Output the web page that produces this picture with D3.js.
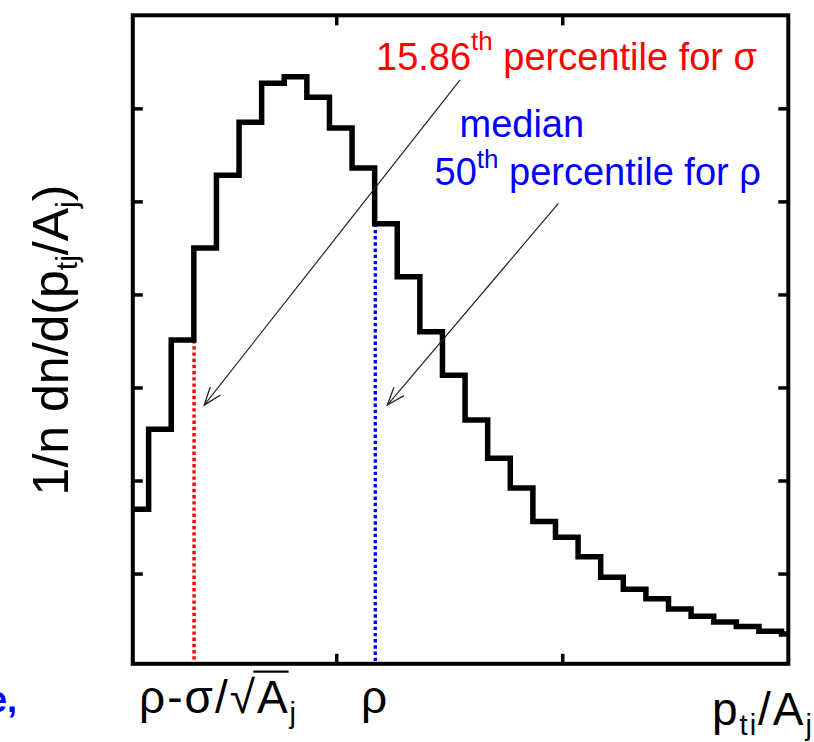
<!DOCTYPE html>
<html>
<head>
<meta charset="utf-8">
<script src="https://cdn.jsdelivr.net/npm/d3@7"></script>
<style>
  html, body { margin: 0; padding: 0; background: #fff; }
  svg { display: block; }
  text { font-family: "Liberation Sans", Arial, sans-serif; }
</style>
</head>
<body>
<svg id="chart" width="814" height="742"></svg>
<script>
// ---------------- data ----------------
const binEdges = [0.07, 0.17, 0.27, 0.37, 0.47, 0.57, 0.67, 0.77, 0.87, 0.97,
                  1.07, 1.17, 1.27, 1.37, 1.47, 1.57, 1.67, 1.77, 1.87, 1.97,
                  2.07, 2.17, 2.27, 2.37, 2.47, 2.57, 2.67, 2.77, 2.87, 2.97, 3.07];
const binValues = [1.69, 2.55, 3.51, 4.50, 5.28, 5.85, 6.27, 6.34, 6.12, 5.79,
                   5.36, 4.76, 4.19, 3.60, 3.13, 2.65, 2.24, 1.92, 1.56, 1.39,
                   1.18, 0.96, 0.83, 0.73, 0.62, 0.54, 0.48, 0.43, 0.38, 0.35];
const xTicks = [1, 2];
const yTicks = [1, 2, 3, 4, 5, 6];
// percentile markers: [x position, histogram height at that x]
const sigmaMark = [0.371, 3.51];
const medianMark = [1.173, 4.76];
// arrows: [tailX, tailY, tipX, tipY] in data units
const sigmaArrow = [1.548, 6.305, 0.416, 2.81];
const medianArrow = [1.983, 4.979, 1.226, 2.81];

// ---------------- layout ----------------
const plot = { left: 132.8, right: 788.3, top: 15.3, bottom: 663.8 };
const svg = d3.select("#chart");

const x = d3.scaleLinear().domain([0.1, 3.0]).range([plot.left, plot.right]);
const y = d3.scaleLinear().domain([0.03, 7.0]).range([plot.bottom, plot.top]);

const defs = svg.append("defs");
defs.append("clipPath").attr("id", "clip")
  .append("rect")
  .attr("x", plot.left).attr("y", plot.top)
  .attr("width", plot.right - plot.left).attr("height", plot.bottom - plot.top);

defs.append("marker")
  .attr("id", "arrowhead")
  .attr("markerUnits", "userSpaceOnUse")
  .attr("viewBox", "-20 -10 22 20")
  .attr("refX", 0).attr("refY", 0)
  .attr("markerWidth", 22).attr("markerHeight", 20)
  .attr("orient", "auto")
  .append("path")
  .attr("d", "M-18,-6.5 L0,0 L-18,6.5")
  .attr("fill", "none").attr("stroke", "#222").attr("stroke-width", 1.3);

const g = svg.append("g").attr("clip-path", "url(#clip)");

// percentile dotted lines
[[sigmaMark, "#ff0000"], [medianMark, "#0000ff"]].forEach(([m, c]) => {
  g.append("line")
    .attr("x1", x(m[0])).attr("x2", x(m[0]))
    .attr("y1", y(m[1])).attr("y2", y.range()[0])
    .attr("stroke", c).attr("stroke-width", 3.4)
    .attr("stroke-dasharray", "3.4,2.8");
});

// histogram step line
const pts = binValues.map((v, i) => [binEdges[i], v]);
pts.push([binEdges[binEdges.length - 1], binValues[binValues.length - 1]]);
const step = d3.line().x(d => x(d[0])).y(d => y(d[1])).curve(d3.curveStepAfter);
g.append("path")
  .attr("d", step(pts))
  .attr("fill", "none").attr("stroke", "#000")
  .attr("stroke-width", 5.5).attr("stroke-linejoin", "miter");

// arrows
[sigmaArrow, medianArrow].forEach(a => {
  svg.append("line")
    .attr("x1", x(a[0])).attr("y1", y(a[1]))
    .attr("x2", x(a[2])).attr("y2", y(a[3]))
    .attr("stroke", "#222").attr("stroke-width", 1.2)
    .attr("marker-end", "url(#arrowhead)");
});

// ticks via axes (inward), no domain path
const tickLen = 10;
function styleAxis(sel) {
  sel.select(".domain").remove();
  sel.selectAll(".tick line").attr("stroke", "#000").attr("stroke-width", 3.5);
  sel.selectAll(".tick text").remove();
}
svg.append("g").attr("transform", `translate(0,${plot.bottom})`)
  .call(d3.axisBottom(x).tickValues(xTicks).tickSize(-tickLen).tickFormat(""))
  .call(styleAxis);
svg.append("g").attr("transform", `translate(0,${plot.top})`)
  .call(d3.axisTop(x).tickValues(xTicks).tickSize(-tickLen).tickFormat(""))
  .call(styleAxis);
svg.append("g").attr("transform", `translate(${plot.left},0)`)
  .call(d3.axisLeft(y).tickValues(yTicks).tickSize(-tickLen).tickFormat(""))
  .call(styleAxis);
svg.append("g").attr("transform", `translate(${plot.right},0)`)
  .call(d3.axisRight(y).tickValues(yTicks).tickSize(-tickLen).tickFormat(""))
  .call(styleAxis);

// frame
svg.append("rect")
  .attr("x", plot.left).attr("y", plot.top)
  .attr("width", plot.right - plot.left).attr("height", plot.bottom - plot.top)
  .attr("fill", "none").attr("stroke", "#000").attr("stroke-width", 4);

// ---------------- annotations ----------------
const annSize = 38, supSize = 26;
const red = svg.append("text").attr("x", 376).attr("y", 70)
  .attr("fill", "#ff0000").attr("font-size", annSize);
red.append("tspan").text("15.86");
red.append("tspan").attr("font-size", supSize).attr("dy", -20).text("th");
red.append("tspan").attr("dy", 20).text(" percentile for \u03C3");

svg.append("text").attr("x", 459.5).attr("y", 137)
  .attr("fill", "#0000ff").attr("font-size", annSize).text("median");
const blue = svg.append("text").attr("x", 434.5).attr("y", 185)
  .attr("fill", "#0000ff").attr("font-size", annSize);
blue.append("tspan").text("50");
blue.append("tspan").attr("font-size", supSize).attr("dy", -17).text("th");
blue.append("tspan").attr("dy", 17).text(" percentile for \u03C1");

// ---------------- axis labels ----------------
const labSize = 46, subSize = 29;
// y label
const yl = svg.append("text")
  .attr("transform", "translate(68,340) rotate(-90)")
  .attr("text-anchor", "middle").attr("font-size", 50).attr("fill", "#000");
yl.append("tspan").text("1/n dn/d(p");
yl.append("tspan").attr("font-size", 30).attr("dy", 9).text("tj");
yl.append("tspan").attr("dy", -9).text("/A");
yl.append("tspan").attr("font-size", 30).attr("dy", 9).text("j");
yl.append("tspan").attr("dy", -9).text(")");

// x labels
const xl1 = svg.append("text").attr("x", 139).attr("y", 713)
  .attr("font-size", labSize).attr("letter-spacing", 2).attr("fill", "#000");
xl1.append("tspan").text("\u03C1-\u03C3/\u221A");
xl1.append("tspan").text("A");
xl1.append("tspan").attr("font-size", subSize).attr("dy", 10).text("j");
// overbar of the square root over A
(function () {
  const node = xl1.node();
  const sq = node.getExtentOfChar(4);
  const a = node.getExtentOfChar(5);
  svg.append("line")
    .attr("x1", sq.x + sq.width - 3.5).attr("x2", a.x + a.width - 1)
    .attr("y1", 713 - 0.9 * labSize).attr("y2", 713 - 0.9 * labSize)
    .attr("stroke", "#000").attr("stroke-width", 2.4);
})();

svg.append("text").attr("x", 374).attr("y", 713).attr("text-anchor", "middle")
  .attr("font-size", labSize).attr("fill", "#000").text("\u03C1");

const xl3 = svg.append("text").attr("x", 712).attr("y", 725)
  .attr("font-size", labSize).attr("letter-spacing", 2).attr("fill", "#000");
xl3.append("tspan").text("p");
xl3.append("tspan").attr("font-size", subSize).attr("dy", 10).text("ti");
xl3.append("tspan").attr("dy", -10).text("/A");
xl3.append("tspan").attr("font-size", subSize).attr("dy", 10).text("j");

// fragment of neighbouring slide text at the left edge
svg.append("text").attr("x", 17).attr("y", 712).attr("text-anchor", "end")
  .attr("font-size", 36).attr("font-weight", "bold").attr("fill", "#0000ff").text("e,");
</script>
</body>
</html>
